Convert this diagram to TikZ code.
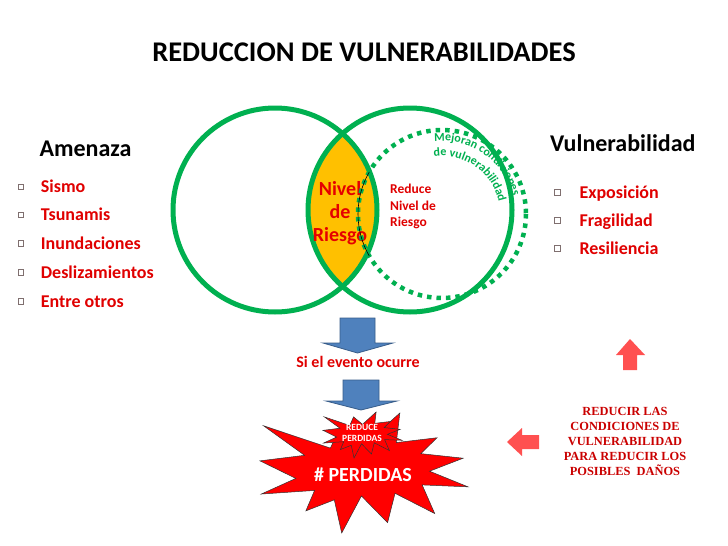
\documentclass[tikz,border=0pt]{standalone}
\usepackage{fontspec}
\setmainfont{Carlito}
\newfontfamily\timesbold{Liberation Serif}
\usepackage{tikz}
\usetikzlibrary{positioning, decorations.text}
\definecolor{venn-green}{HTML}{00B050}
\definecolor{lens-orange}{HTML}{FFC000}
\definecolor{text-red}{HTML}{E00000}
\definecolor{arrow-blue}{HTML}{4F81BD}
\definecolor{arrow-blue-dark}{HTML}{385D8A}
\definecolor{arrow-salmon}{HTML}{FF5050}
\definecolor{burst-red}{HTML}{FF0000}
\definecolor{box-gray}{HTML}{7F6F6F}

% explosion outline, 0..100 in both directions
\newcommand{\explosionpath}{(50,26.85) -- (67.23,0) -- (65.53,24.65) -- (85.09,20.63) -- (77.32,33.87) -- (97.67,37.67) -- (81.51,48.50) -- (100,61.53) -- (77.95,59.92) -- (84.00,83.77) -- (64.91,66.93) -- (61.33,91.38) -- (48.76,69.14) -- (39.28,100) -- (35.72,72.35) -- (22.05,81.56) -- (26.24,64.52) -- (0.63,67.53) -- (17.23,54.51) -- (0,39.88) -- (21.42,35.26) -- (1.71,10.63) -- (33.85,29.26) -- (38.67,10.63) -- cycle}

\begin{document}
\begin{tikzpicture}[x=1pt, y=-1pt,
    heading/.style={font=\fontsize{24}{28}\selectfont\bfseries, inner sep=0pt},
    itemtext/.style={font=\fontsize{18}{21}\selectfont\bfseries, text=text-red, inner sep=0pt},
    bulletbox/.style={draw=box-gray, line width=0.6pt, minimum size=5.5pt, inner sep=0pt},
    bluearrow/.style={fill=arrow-blue, draw=arrow-blue-dark, line width=0.8pt},
    burst/.style={fill=burst-red, draw=black!80, line width=0.5pt}]

    \useasboundingbox[fill=white] (0,0) rectangle (728,546);

    % Title
    \node[font=\fontsize{28.5}{34}\selectfont\bfseries, inner sep=0pt, anchor=base] (title) at (364,61.7) {REDUCCION DE VULNERABILIDADES};

    % Venn circles
    \coordinate (amenaza-c) at (275,210);
    \coordinate (vulner-c) at (410,210);
    \begin{scope}
        \clip (amenaza-c) circle (102);
        \fill[lens-orange] (vulner-c) circle (102);
    \end{scope}
    \draw[venn-green, line width=5pt] (amenaza-c) circle (102);
    \draw[venn-green, line width=5pt] (vulner-c) circle (102);

    \node[font=\fontsize{20}{23.3}\selectfont\bfseries, text=burst-red!90!black, align=center, inner sep=0pt] (nivel) at (340,213) {Nivel\\de\\Riesgo};

    % Dotted circle
    \coordinate (mejora-c) at (442,214);
    \draw[venn-green, line width=4.5pt, dash pattern=on 4.5pt off 5pt] (mejora-c) circle (84);
    \draw[black, line width=0.6pt] (mejora-c) ++(150:84) arc[start angle=150, end angle=210, radius=84];
    \begin{scope}[y=1pt]
        \path[decorate, decoration={text along path, text align=center,
            text={|\fontsize{12}{14}\selectfont\bfseries\color{venn-green}|Mejoran condiciones}}]
            (mejora-c) ++(122:73) arc[start angle=122, end angle=-12, radius=73];
        \path[decorate, decoration={text along path, text align=center,
            text={|\fontsize{12}{14}\selectfont\bfseries\color{venn-green}|de vulnerabilidad}}]
            (mejora-c) ++(122:58) arc[start angle=122, end angle=-12, radius=58];
    \end{scope}

    \node[font=\fontsize{13.5}{16.7}\selectfont\bfseries, text=text-red, align=left, inner sep=0pt, anchor=west] (reduce) at (390,206.5) {Reduce\\Nivel de\\Riesgo};

    % Amenaza list
    \node[heading, anchor=base west] (amenaza) at (39.3,156.7) {Amenaza};
    \foreach \y/\txt [count=\i] in {186.7/Sismo, 215/Tsunamis, 243.5/Inundaciones, 272.5/Deslizamientos, 301.5/Entre otros} {
        \node[bulletbox] (amenaza-box-\i) at (20.7,\y) {};
        \node[itemtext, anchor=base west] (amenaza-item-\i) at (40.7,\y+5.8) {\txt};
    }

    % Vulnerabilidad list
    \node[heading, anchor=base west] (vulner) at (550,151.7) {Vulnerabilidad};
    \foreach \y/\txt [count=\i] in {192.5/Exposición, 220.5/Fragilidad, 248.5/Resiliencia} {
        \node[bulletbox] (vulner-box-\i) at (557.3,\y) {};
        \node[itemtext, anchor=base west] (vulner-item-\i) at (579.3,\y+5.8) {\txt};
    }

    % Blue arrows
    \draw[bluearrow] (340,318) -- (375,318) -- (375,343) -- (393,343) -- (357.5,353) -- (323,343) -- (340,343) -- cycle;
    \node[font=\fontsize{16}{19}\selectfont\bfseries, text=text-red, inner sep=0pt, anchor=base] (evento) at (358,367.3) {Si el evento ocurre};
    \draw[bluearrow] (343,380) -- (379,380) -- (379,401) -- (397,401) -- (361,410) -- (326,401) -- (343,401) -- cycle;

    % Explosions
    \begin{scope}[shift={(260,413)}, x=2.08pt, y=-1.2pt]
        \draw[burst] \explosionpath;
    \end{scope}
    \begin{scope}[shift={(323,412)}, x=0.79pt, y=-0.46pt]
        \draw[burst] \explosionpath;
    \end{scope}
    \node[font=\fontsize{9.5}{11}\selectfont\bfseries, text=white, align=center, inner sep=0pt] (reduce-perdidas) at (362,433) {REDUCE\\PERDIDAS};
    \node[font=\fontsize{20}{24}\selectfont\bfseries, text=white, inner sep=0pt] (perdidas) at (363,475) {\# PERDIDAS};

    % Salmon arrows
    \fill[arrow-salmon] (630,339) -- (645,355) -- (637,355) -- (637,370) -- (623,370) -- (623,355) -- (616,355) -- cycle;
    \fill[arrow-salmon] (507,442) -- (522,428) -- (522,435) -- (539,435) -- (539,449) -- (522,449) -- (522,456) -- cycle;

    \node[font=\timesbold\bfseries\fontsize{12.4}{15}\selectfont, text=text-red!90!black, align=center, inner sep=0pt] (reducir) at (625,441) {REDUCIR LAS\\CONDICIONES DE\\VULNERABILIDAD\\PARA REDUCIR LOS\\POSIBLES\ \ DAÑOS};
\end{tikzpicture}
\end{document}
